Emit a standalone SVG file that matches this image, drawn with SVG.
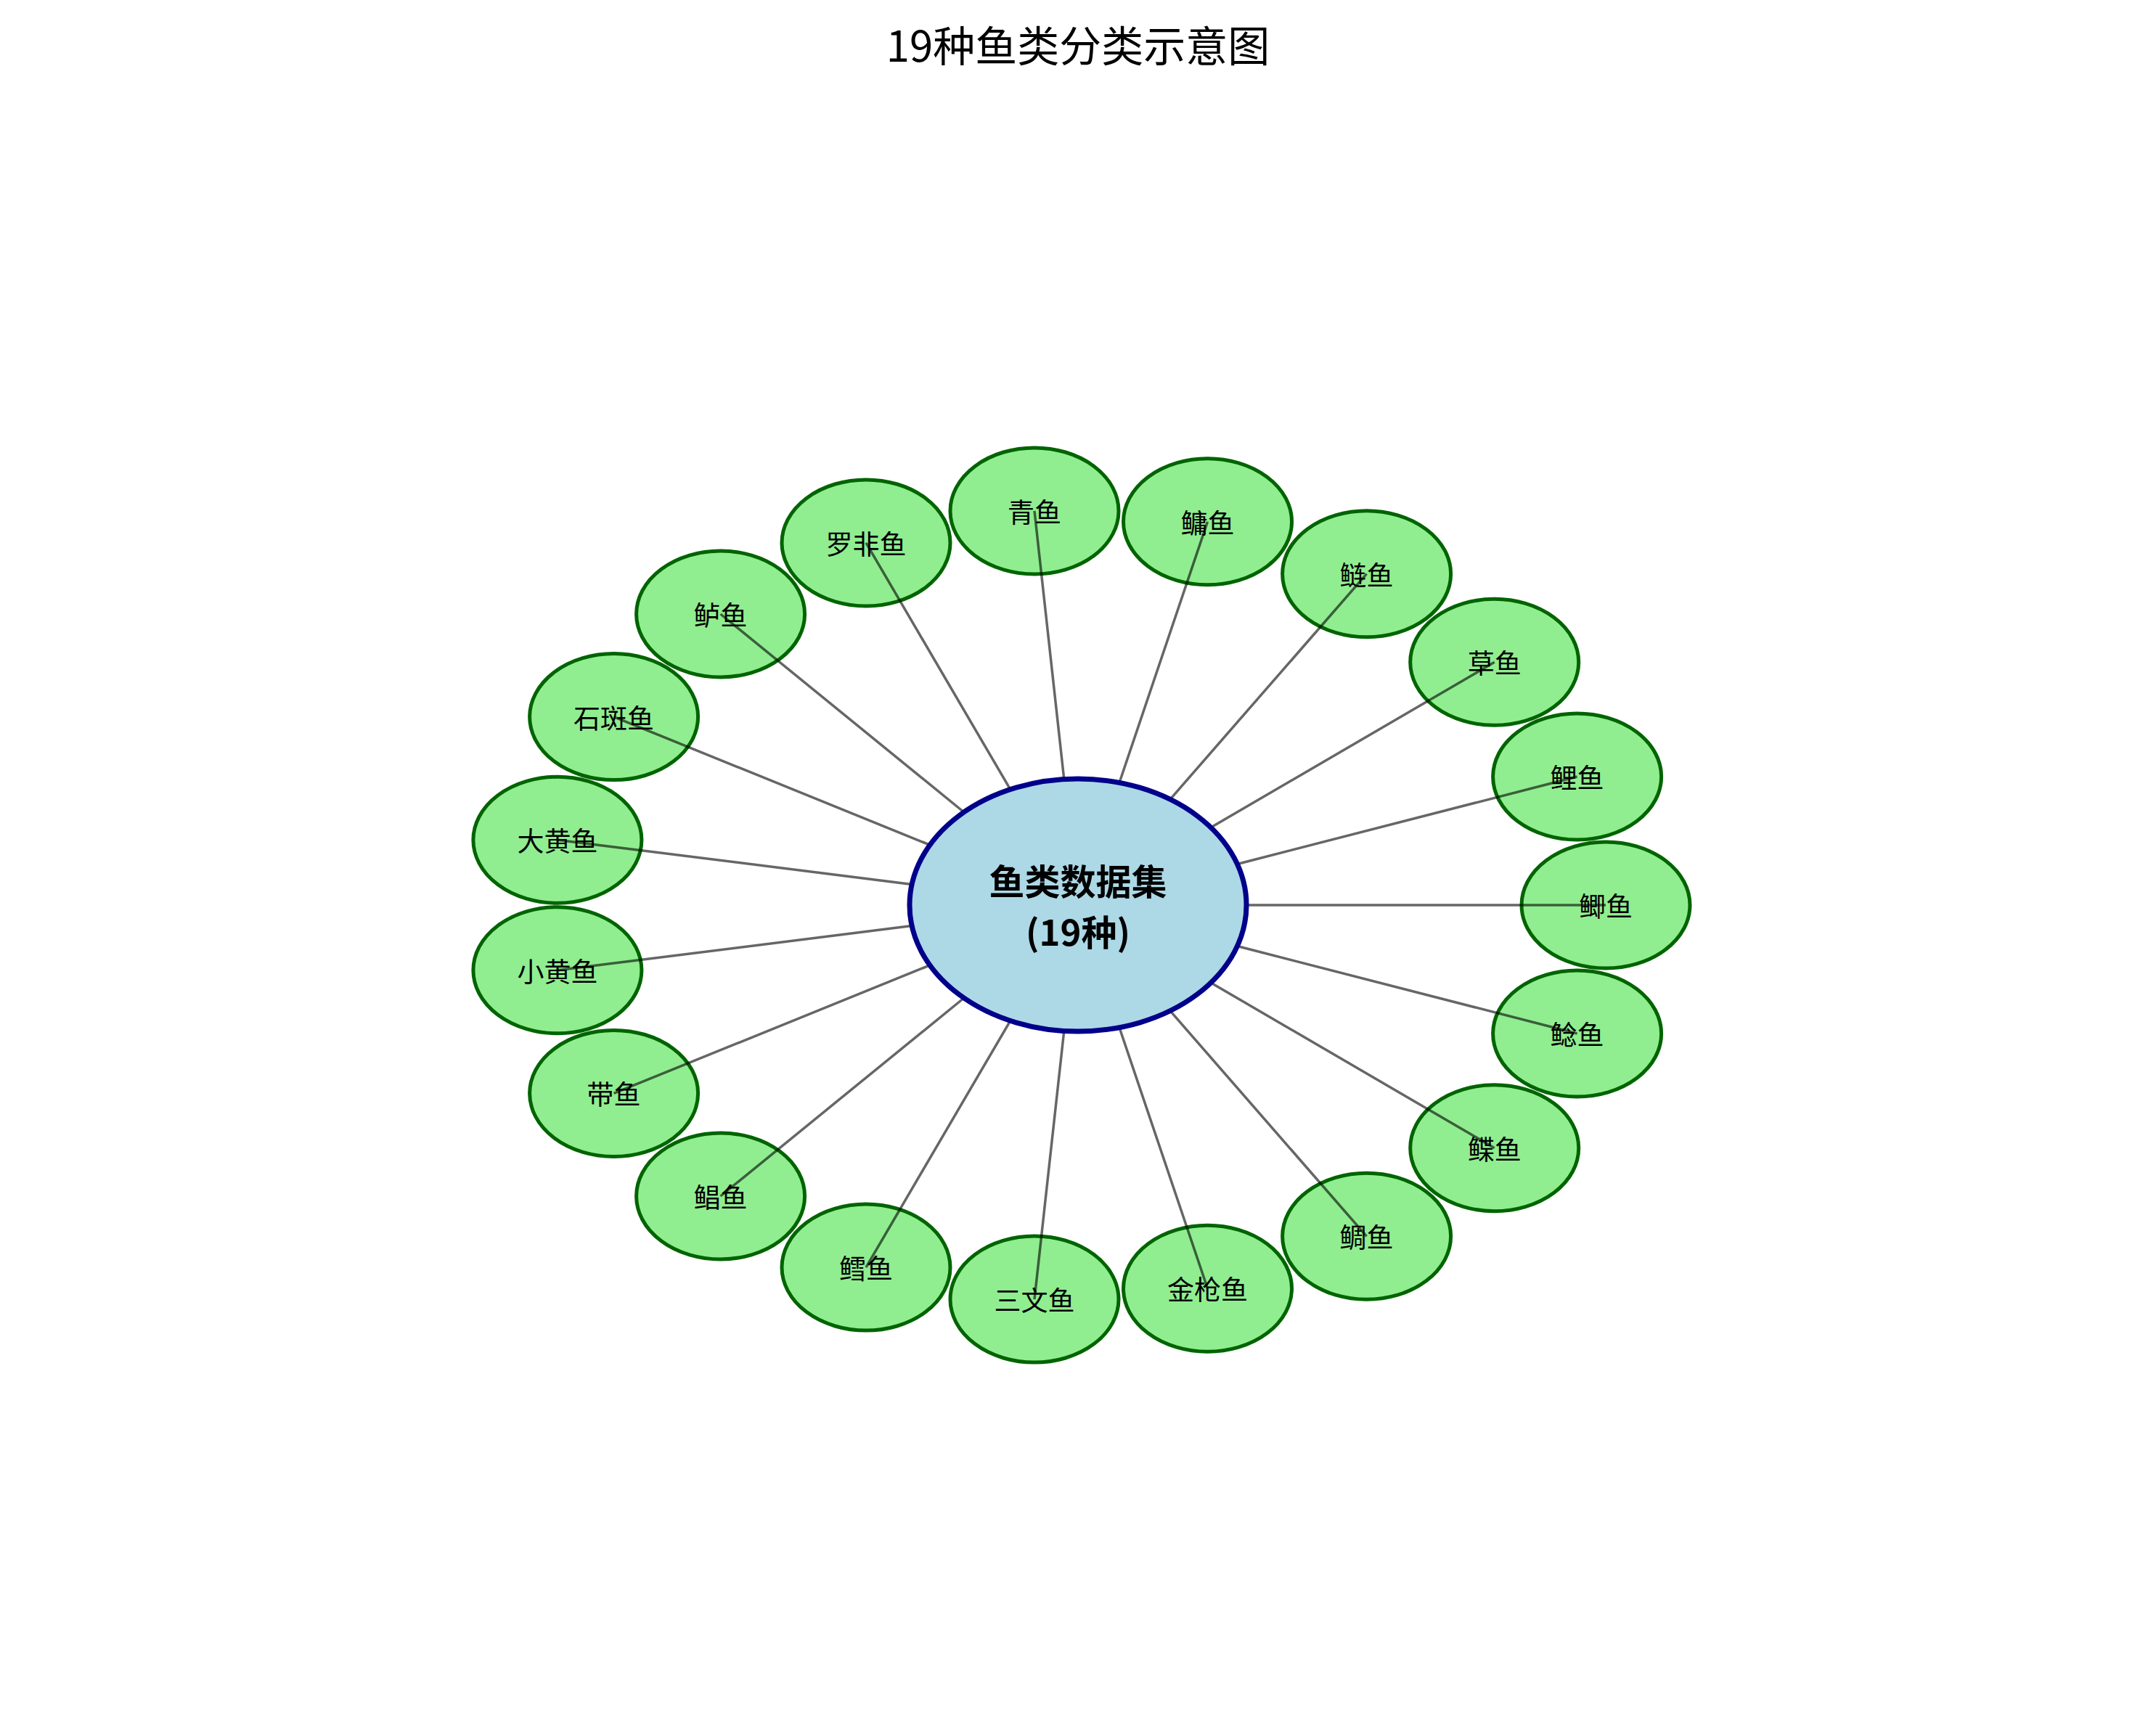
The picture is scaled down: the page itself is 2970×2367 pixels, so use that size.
<svg xmlns="http://www.w3.org/2000/svg" width="2970" height="2367" viewBox="0 0 2970 2367">
<style>
.bg{fill:#ffffff}
.fish ellipse{fill:#90EE90;stroke:#006400;stroke-width:5}
.fish text{font-family:"Noto Sans CJK SC","Noto Sans",sans-serif;font-size:37px;fill:#000;text-anchor:middle;dominant-baseline:central}
.edges line{stroke:#000;stroke-opacity:0.6;stroke-width:3.5}
.center ellipse{fill:#ADD8E6;stroke:#00008B;stroke-width:7}
.center text{font-family:"Noto Sans CJK SC","Noto Sans",sans-serif;font-size:49px;font-weight:bold;fill:#000;text-anchor:middle;dominant-baseline:central}
.title{font-family:"Noto Sans CJK SC","Noto Sans",sans-serif;font-size:58px;fill:#000;text-anchor:middle;dominant-baseline:central}
</style>
<rect class="bg" x="0" y="0" width="2970" height="2367"/>
<text class="title" x="1485" y="60">19种鱼类分类示意图</text>
<g id="node-jiyu" class="fish"><ellipse cx="2212" cy="1247" rx="116" ry="87"/><text x="2212" y="1247">鲫鱼</text></g>
<g id="node-liyu" class="fish"><ellipse cx="2172.6" cy="1070" rx="116" ry="87"/><text x="2172.6" y="1070">鲤鱼</text></g>
<g id="node-caoyu" class="fish"><ellipse cx="2058.7" cy="912.3" rx="116" ry="87"/><text x="2058.7" y="912.3">草鱼</text></g>
<g id="node-lianyu" class="fish"><ellipse cx="1882.6" cy="790.7" rx="116" ry="87"/><text x="1882.6" y="790.7">鲢鱼</text></g>
<g id="node-yongyu" class="fish"><ellipse cx="1663.5" cy="718.7" rx="116" ry="87"/><text x="1663.5" y="718.7">鳙鱼</text></g>
<g id="node-qingyu" class="fish"><ellipse cx="1425" cy="703.9" rx="116" ry="87"/><text x="1425" y="703.9">青鱼</text></g>
<g id="node-luofeiyu" class="fish"><ellipse cx="1193" cy="747.9" rx="116" ry="87"/><text x="1193" y="747.9">罗非鱼</text></g>
<g id="node-luyu" class="fish"><ellipse cx="992.6" cy="846" rx="116" ry="87"/><text x="992.6" y="846">鲈鱼</text></g>
<g id="node-shibanyu" class="fish"><ellipse cx="845.6" cy="987.6" rx="116" ry="87"/><text x="845.6" y="987.6">石斑鱼</text></g>
<g id="node-dahuangyu" class="fish"><ellipse cx="767.9" cy="1157.3" rx="116" ry="87"/><text x="767.9" y="1157.3">大黄鱼</text></g>
<g id="node-xiaohuangyu" class="fish"><ellipse cx="767.9" cy="1336.7" rx="116" ry="87"/><text x="767.9" y="1336.7">小黄鱼</text></g>
<g id="node-daiyu" class="fish"><ellipse cx="845.6" cy="1506.4" rx="116" ry="87"/><text x="845.6" y="1506.4">带鱼</text></g>
<g id="node-changyu" class="fish"><ellipse cx="992.6" cy="1648" rx="116" ry="87"/><text x="992.6" y="1648">鲳鱼</text></g>
<g id="node-xueyu" class="fish"><ellipse cx="1193" cy="1746.1" rx="116" ry="87"/><text x="1193" y="1746.1">鳕鱼</text></g>
<g id="node-sanwenyu" class="fish"><ellipse cx="1425" cy="1790.1" rx="116" ry="87"/><text x="1425" y="1790.1">三文鱼</text></g>
<g id="node-jinqiangyu" class="fish"><ellipse cx="1663.5" cy="1775.3" rx="116" ry="87"/><text x="1663.5" y="1775.3">金枪鱼</text></g>
<g id="node-diaoyu" class="fish"><ellipse cx="1882.6" cy="1703.3" rx="116" ry="87"/><text x="1882.6" y="1703.3">鲷鱼</text></g>
<g id="node-dieyu" class="fish"><ellipse cx="2058.7" cy="1581.7" rx="116" ry="87"/><text x="2058.7" y="1581.7">鲽鱼</text></g>
<g id="node-nianyu" class="fish"><ellipse cx="2172.6" cy="1424" rx="116" ry="87"/><text x="2172.6" y="1424">鲶鱼</text></g>
<g id="connectors" class="edges">
<line x1="1717" y1="1247" x2="2212" y2="1247"/>
<line x1="1704.4" y1="1190.5" x2="2172.6" y2="1070"/>
<line x1="1668.1" y1="1140.1" x2="2058.7" y2="912.3"/>
<line x1="1611.9" y1="1101.3" x2="1882.6" y2="790.7"/>
<line x1="1542" y1="1078.3" x2="1663.5" y2="718.7"/>
<line x1="1465.8" y1="1073.6" x2="1425" y2="703.9"/>
<line x1="1391.8" y1="1087.7" x2="1193" y2="747.9"/>
<line x1="1327.9" y1="1119" x2="992.6" y2="846"/>
<line x1="1281" y1="1164.2" x2="845.6" y2="987.6"/>
<line x1="1256.2" y1="1218.4" x2="767.9" y2="1157.3"/>
<line x1="1256.2" y1="1275.6" x2="767.9" y2="1336.7"/>
<line x1="1281" y1="1329.8" x2="845.6" y2="1506.4"/>
<line x1="1327.9" y1="1375" x2="992.6" y2="1648"/>
<line x1="1391.8" y1="1406.3" x2="1193" y2="1746.1"/>
<line x1="1465.8" y1="1420.4" x2="1425" y2="1790.1"/>
<line x1="1542" y1="1415.7" x2="1663.5" y2="1775.3"/>
<line x1="1611.9" y1="1392.7" x2="1882.6" y2="1703.3"/>
<line x1="1668.1" y1="1353.9" x2="2058.7" y2="1581.7"/>
<line x1="1704.4" y1="1303.5" x2="2172.6" y2="1424"/>
</g>
<g id="node-center" class="center"><ellipse cx="1485" cy="1247" rx="232" ry="174"/><text x="1485" y="1211">鱼类数据集</text><text x="1485" y="1281">(19种)</text></g>
</svg>
